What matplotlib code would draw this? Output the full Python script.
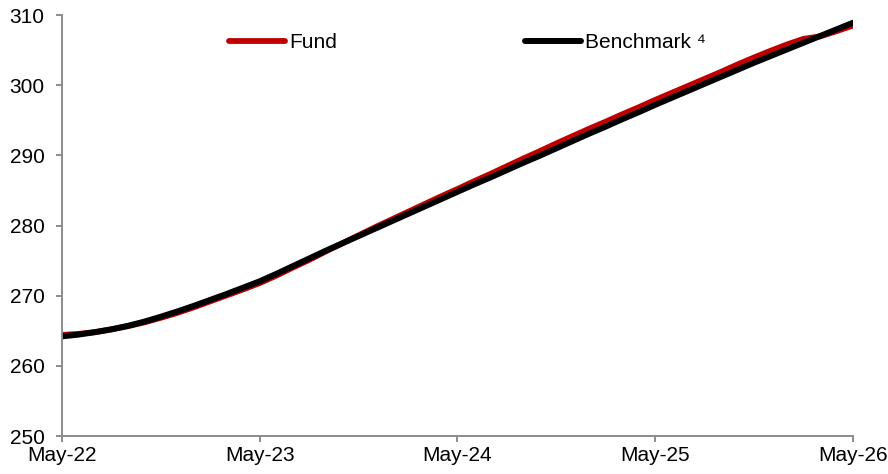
import matplotlib
matplotlib.use("Agg")
import matplotlib.pyplot as plt

months = list(range(49))
tick_positions = [0, 12, 24, 36, 48]
tick_labels = ["May-22", "May-23", "May-24", "May-25", "May-26"]

fund = [264.4, 264.55, 264.8, 265.2, 265.65, 266.2, 266.85, 267.55, 268.35, 269.2,
        270.05, 270.9, 271.8, 272.85, 274.0, 275.1, 276.3, 277.45, 278.6, 279.75,
        280.85, 281.95, 283.05, 284.15, 285.2, 286.3, 287.35, 288.45, 289.55, 290.6,
        291.7, 292.75, 293.8, 294.8, 295.85, 296.85, 297.9, 298.9, 299.9, 300.9,
        301.9, 302.95, 303.95, 304.9, 305.8, 306.6, 306.95, 307.7, 308.5]

benchmark = [264.2, 264.45, 264.8, 265.2, 265.7, 266.3, 267.0, 267.75, 268.55, 269.4,
             270.25, 271.15, 272.05, 273.1, 274.2, 275.3, 276.4, 277.45, 278.5, 279.55,
             280.6, 281.65, 282.7, 283.75, 284.8, 285.85, 286.85, 287.9, 288.95, 289.95,
             291.0, 292.05, 293.1, 294.1, 295.15, 296.15, 297.2, 298.2, 299.2, 300.2,
             301.2, 302.2, 303.2, 304.15, 305.1, 306.05, 307.0, 307.95, 308.9]

plt.rcParams['font.family'] = ['Liberation Sans', 'DejaVu Sans']

fig = plt.figure(figsize=(8.88, 4.74), dpi=100)
ax = fig.add_axes([62/888, 38/474, (853-62)/888, (436-15)/474])

ax.plot(months, fund, color='#C00000', lw=4.2, solid_capstyle='round', label='Fund')
ax.plot(months, benchmark, color='black', lw=4.3, solid_capstyle='round', label='Benchmark \u2074')

ax.set_xlim(0, 48)
ax.set_ylim(250, 310)
ax.set_yticks(range(250, 311, 10))
ax.set_xticks(tick_positions)
ax.set_xticklabels(tick_labels)

for s in ['top', 'right']:
    ax.spines[s].set_visible(False)
for s in ['left', 'bottom']:
    ax.spines[s].set_color('#8c8c8c')
    ax.spines[s].set_linewidth(1.4)
ax.tick_params(axis='both', direction='out', length=4.5, width=1.4, color='#8c8c8c',
               labelsize=15, labelcolor='black')
ax.tick_params(axis='y', pad=8)
ax.tick_params(axis='x', pad=2.5)

leg = ax.legend(loc='center', bbox_to_anchor=(0.513, 0.935), ncol=2, frameon=False,
                fontsize=15, handlelength=2.7, handletextpad=0.2, columnspacing=9.0)

fig.savefig('out.png', dpi=100)
